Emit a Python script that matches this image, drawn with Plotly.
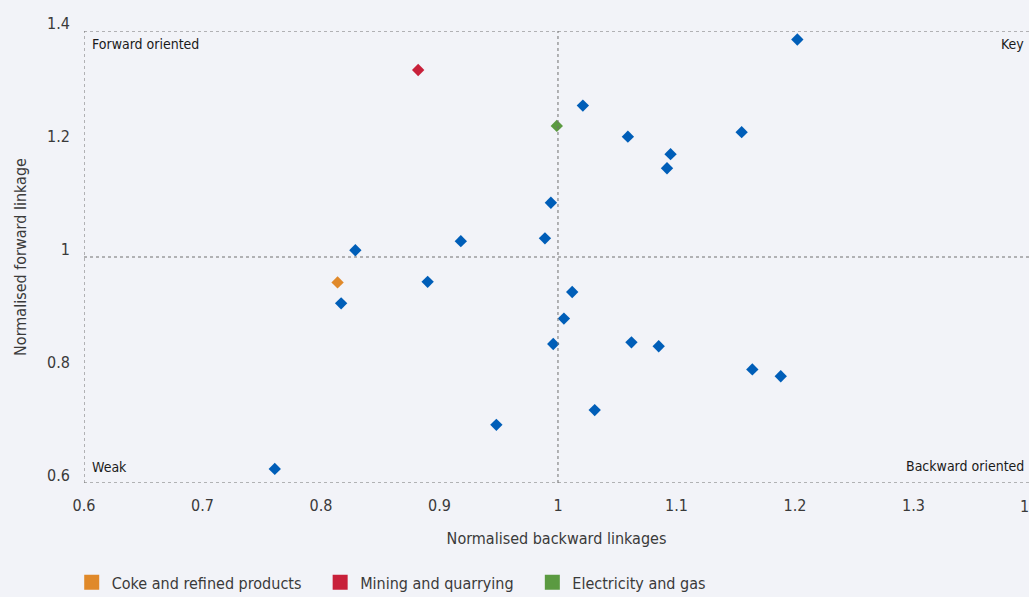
import plotly.graph_objects as go

# ---- data ----
other_x = [1.202, 1.021, 1.059, 1.155, 1.095, 1.092, 0.994, 0.989, 0.918, 0.829,
           0.890, 0.817, 1.012, 1.005, 0.996, 1.062, 1.085, 1.164, 1.188, 1.031,
           0.948, 0.761]
other_y = [1.385, 1.268, 1.213, 1.221, 1.182, 1.157, 1.096, 1.033, 1.028, 1.012,
           0.956, 0.918, 0.938, 0.891, 0.846, 0.849, 0.842, 0.801, 0.789, 0.729,
           0.703, 0.625]

highlight_names = ["Coke and refined products", "Mining and quarrying", "Electricity and gas"]
highlight_x = [0.814, 0.882, 0.999]
highlight_y = [0.955, 1.331, 1.232]
highlight_colors = ["#E0892A", "#C8203A", "#5B9A41"]

x_ticks = [0.6, 0.7, 0.8, 0.9, 1.0, 1.1, 1.2, 1.3]
x_tick_labels = ["0.6", "0.7", "0.8", "0.9", "1", "1.1", "1.2", "1.3"]
y_ticks = [0.6, 0.8, 1.0, 1.2, 1.4]
y_tick_labels = ["0.6", "0.8", "1", "1.2", "1.4"]

quadrant_labels = ["Forward oriented", "Key", "Weak", "Backward oriented"]

BLUE = "#005EB8"
BG = "#F2F3F8"
FONT = "DejaVu Sans Condensed, Liberation Sans Narrow, sans-serif"
TXT = "#3A3A3A"

X_MIN, X_MAX = 0.6, 1.3975
Y_MIN, Y_MAX = 0.6, 1.4

NBSP = "\u00a0"

fig = go.Figure()

fig.add_trace(go.Scatter(
    x=other_x, y=other_y, mode="markers", showlegend=False,
    marker=dict(symbol="diamond", size=9.5, color=BLUE, line=dict(width=0)),
    hoverinfo="x+y"))

for name, xv, yv, col in zip(highlight_names, highlight_x, highlight_y, highlight_colors):
    fig.add_trace(go.Scatter(
        x=[xv], y=[yv], mode="markers", name=name, showlegend=False,
        marker=dict(symbol="diamond", size=9.5, color=col, line=dict(width=0))))
    # legend entry with square swatch (trailing non-breaking spaces widen the item gap)
    fig.add_trace(go.Scatter(
        x=[None], y=[None], mode="markers", name=name + NBSP * 3, showlegend=True,
        marker=dict(symbol="square", size=15, color=col, line=dict(width=0))))

dot = dict(color="#707070", width=1, dash="dot")
# dotted frame (left, top, bottom) and the two reference lines at 1
fig.add_shape(type="line", xref="x", yref="y", x0=0.6, x1=0.6, y0=Y_MIN, y1=Y_MAX, line=dot)
fig.add_shape(type="line", xref="paper", yref="y", x0=0, x1=1, y0=Y_MAX, y1=Y_MAX, line=dot)
fig.add_shape(type="line", xref="paper", yref="y", x0=0, x1=1, y0=Y_MIN, y1=Y_MIN, line=dot)
fig.add_shape(type="line", xref="x", yref="y", x0=1.0, x1=1.0, y0=Y_MIN, y1=Y_MAX, line=dot)
fig.add_shape(type="line", xref="paper", yref="y", x0=0, x1=1, y0=1.0, y1=1.0, line=dot)

qfont = dict(family=FONT, size=14, color="#1A1A1A")
fig.add_annotation(text=quadrant_labels[0], xref="paper", yref="paper", x=0, y=1,
                   xanchor="left", yanchor="top", xshift=6, yshift=-3, showarrow=False, font=qfont)
fig.add_annotation(text=quadrant_labels[1], xref="paper", yref="paper", x=1, y=1,
                   xanchor="right", yanchor="top", xshift=-3, yshift=-3, showarrow=False, font=qfont)
fig.add_annotation(text=quadrant_labels[2], xref="paper", yref="paper", x=0, y=0,
                   xanchor="left", yanchor="bottom", xshift=6, yshift=6, showarrow=False, font=qfont)
fig.add_annotation(text=quadrant_labels[3], xref="paper", yref="paper", x=1, y=0,
                   xanchor="right", yanchor="bottom", xshift=-3, yshift=7, showarrow=False, font=qfont)
# clipped last x tick label (1.4) just beyond the right edge
fig.add_annotation(text="1.4", xref="paper", yref="paper",
                   x=(1.4 - X_MIN) / (X_MAX - X_MIN), y=0, xanchor="center", yanchor="top",
                   yshift=-12, showarrow=False, font=dict(family=FONT, size=16, color=TXT))

fig.update_layout(
    width=1029, height=597,
    paper_bgcolor=BG, plot_bgcolor=BG,
    margin=dict(l=84, r=0, t=31, b=114, autoexpand=False),
    font=dict(family=FONT, size=16, color=TXT),
    xaxis=dict(range=[X_MIN, X_MAX], tickvals=x_ticks, ticktext=x_tick_labels,
               showgrid=False, zeroline=False, showline=False, ticks="",
               ticklabelstandoff=11, automargin=False,
               title=dict(text="Normalised backward linkages", standoff=18,
                          font=dict(family=FONT, size=16, color=TXT))),
    yaxis=dict(range=[Y_MIN, Y_MAX], tickvals=y_ticks, ticktext=y_tick_labels,
               showgrid=False, zeroline=False, showline=False, ticks="",
               ticklabelstandoff=13, ticklabelshift=-8, automargin=False,
               title=dict(text="Normalised forward linkage", standoff=16,
                          font=dict(family=FONT, size=16, color=TXT))),
    legend=dict(orientation="h", x=-0.013, xanchor="left",
                y=-0.22, yanchor="middle",
                bgcolor="rgba(0,0,0,0)", font=dict(family=FONT, size=16, color=TXT),
                itemsizing="trace"),
    showlegend=True,
)

fig.write_html("out.html", config={"displayModeBar": False},
               post_script="document.body.style.margin='0px';")
